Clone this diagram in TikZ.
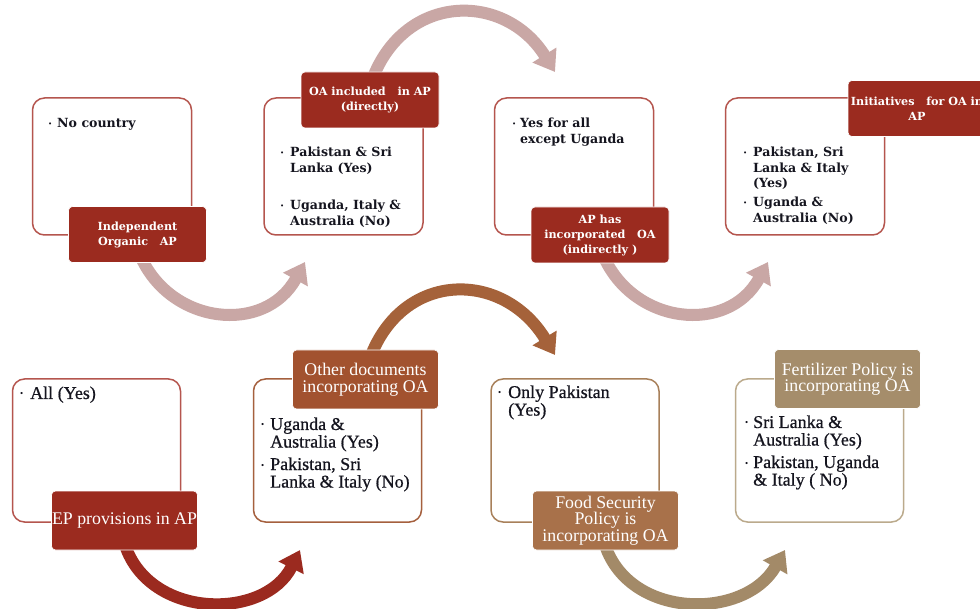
\documentclass[tikz,border=0pt]{standalone}
\usepackage{fontspec}
\usepackage{graphicx}
\setmainfont{Liberation Serif}
\newfontfamily\slabfont{DejaVu Serif}
\newfontfamily\heavyserif{Liberation Serif}[BoldFont={Liberation Serif},BoldFeatures={FakeBold=0.7}]
\usetikzlibrary{arrows.meta}
\definecolor{lblred}{HTML}{9B2B1F}
\definecolor{lblbrown}{HTML}{A2522F}
\definecolor{lblfood}{HTML}{A8714A}
\definecolor{lbltan}{HTML}{A58D6B}
\definecolor{outred}{HTML}{B5554E}
\definecolor{outbrown}{HTML}{A5603E}
\definecolor{outfood}{HTML}{A8805A}
\definecolor{outtan}{HTML}{BBAA8C}
\definecolor{arrpink}{HTML}{C9A7A5}
\definecolor{arrred}{HTML}{9B2A1F}
\definecolor{arrbrown}{HTML}{A5623A}
\definecolor{arrtan}{HTML}{A38A68}
\definecolor{bodytext}{HTML}{15151F}
\newcommand\lns[1]{\begin{tabular}[t]{@{}l@{}}#1\end{tabular}}
\tikzset{
  carrow/.style={line width=12pt, -{Triangle[width=27pt,length=20pt]}},
  wboxtop/.style={draw=outred, line width=1.5pt, fill=white, rounded corners=12pt, minimum width=159pt, minimum height=137pt, inner sep=0pt},
  wboxbot/.style={line width=1.5pt, fill=white, rounded corners=12pt, minimum width=168pt, minimum height=143pt, inner sep=0pt},
  tlabel/.style={fill=lblred, draw=white, line width=0.6pt, rounded corners=4pt, text=white, font=\slabfont\bfseries\fontsize{11.2}{15}\selectfont, align=center, minimum width=138pt, minimum height=56pt, inner sep=0pt},
  blabel/.style={draw=white, line width=0.6pt, rounded corners=4pt, text=white, font=\fontsize{17.8}{16.5}\selectfont, align=center, minimum width=146pt, minimum height=59pt, inner sep=0pt},
  tbody/.style={text=bodytext, font=\slabfont\bfseries\fontsize{12.6}{15.5}\selectfont, anchor=base west, inner sep=0pt},
  bbody/.style={text=bodytext, font=\heavyserif\bfseries\fontsize{18}{17}\selectfont, anchor=base west, inner sep=0pt},
  tbul/.style={text=bodytext, font=\slabfont\fontsize{7}{7}\selectfont, anchor=base west, inner sep=0pt, yshift=1pt},
  bbul/.style={text=bodytext, font=\fontsize{9}{9}\selectfont, anchor=base west, inner sep=0pt, yshift=2pt}
}
\begin{document}
\begin{tikzpicture}[x=1pt,y=-1pt]
\useasboundingbox (0,0) rectangle (980,609);
\clip (0,0) rectangle (980,609);
\fill[white] (0,0) rectangle (980,609);
% arrow end points
\coordinate (a1s) at (140,255); \coordinate (a1e) at (305,262);
\coordinate (a2s) at (372,80);  \coordinate (a2e) at (555,72);
\coordinate (a3s) at (603,255); \coordinate (a3e) at (768,262);
\coordinate (a4s) at (125,545); \coordinate (a4e) at (300,550);
\coordinate (a5s) at (370,358); \coordinate (a5e) at (555,355);
\coordinate (a6s) at (605,545); \coordinate (a6e) at (785,550);
% arrows
\draw[carrow, arrpink] (a1s) .. controls (170,325) and (265,335) .. (a1e);
\draw[carrow, arrpink] (a2s) .. controls (405,-8) and (505,-8) .. (a2e);
\draw[carrow, arrpink] (a3s) .. controls (633,325) and (728,335) .. (a3e);
\draw[carrow, arrred] (a4s) .. controls (150,620) and (265,620) .. (a4e);
\draw[carrow, arrbrown] (a5s) .. controls (403,270) and (503,270) .. (a5e);
\draw[carrow, arrtan] (a6s) .. controls (630,620) and (745,620) .. (a6e);
% white boxes
\node[wboxtop] (b1) at (112,166.5) {};
\node[wboxtop] (b2) at (343.5,166.5) {};
\node[wboxtop] (b3) at (574,166.5) {};
\node[wboxtop] (b4) at (805,166.5) {};
\node[wboxbot, draw=outred] (b5) at (96.5,450.5) {};
\node[wboxbot, draw=outbrown] (b6) at (337.5,450.5) {};
\node[wboxbot, draw=outfood] (b7) at (575,450.5) {};
\node[wboxbot, draw=outtan] (b8) at (819.5,450.5) {};
% label boxes
\node[tlabel] (l1) at (137.5,234.5) {Independent\\Organic\ \ \ AP};
\node[tlabel] (l2) at (370,100) {OA included\ \ \ in AP\\(directly)};
\node[tlabel] (l3) at (600,235) {AP has\\incorporated\ \ \ OA\\(indirectly )};
\node[tlabel] (l4) at (917,108.5) {Initiatives\ \ \ for OA in\\AP};
\node[blabel, fill=lblred] (l5) at (124.5,520.5) {EP provisions in AP};
\node[blabel, fill=lblbrown] (l6) at (365.5,379.5) {Other documents\\incorporating OA};
\node[blabel, fill=lblfood] (l7) at (605.5,520.5) {Food Security\\Policy is\\incorporating OA};
\node[blabel, fill=lbltan] (l8) at (847.5,379) {Fertilizer Policy is\\incorporating OA};
% top body texts
\node[tbul] (u1) at (48,128) {•};
\node[tbody] (t1) at (57,128) {No country};
\node[tbul] (u2a) at (280,157) {•};
\node[tbody] (t2a) at (290,157) {\lns{Pakistan \& Sri\\Lanka (Yes)}};
\node[tbul] (u2b) at (280,210) {•};
\node[tbody] (t2b) at (290,210) {\lns{Uganda, Italy \&\\Australia (No)}};
\node[tbul] (u3) at (512,128) {•};
\node[tbody] (t3) at (520,128) {\lns{Yes for all\\except Uganda}};
\node[tbul] (u4a) at (743,157) {•};
\node[tbody] (t4a) at (753,157) {\lns{Pakistan, Sri\\Lanka \& Italy\\(Yes)}};
\node[tbul] (u4b) at (743,207) {•};
\node[tbody] (t4b) at (753,207) {\lns{Uganda \&\\Australia (No)}};
% bottom body texts
\node[bbul] (u5) at (20,399) {•};
\node[bbody] (t5) at (30,399) {All (Yes)};
\node[bbul] (u6a) at (261,430) {•};
\node[bbody] (t6a) at (270,430) {\lns{Uganda \&\\Australia (Yes)}};
\node[bbul] (u6b) at (261,470) {•};
\node[bbody] (t6b) at (270,470) {\lns{Pakistan, Sri\\Lanka \& Italy (No)}};
\node[bbul] (u7) at (498,398) {•};
\node[bbody] (t7) at (508,398) {\lns{Only Pakistan\\(Yes)}};
\node[bbul] (u8a) at (745,428) {•};
\node[bbody] (t8a) at (753,428) {\lns{Sri Lanka \&\\Australia (Yes)}};
\node[bbul] (u8b) at (745,468) {•};
\node[bbody] (t8b) at (753,468) {\lns{Pakistan, Uganda\\\& Italy ( No)}};
\end{tikzpicture}
\end{document}
